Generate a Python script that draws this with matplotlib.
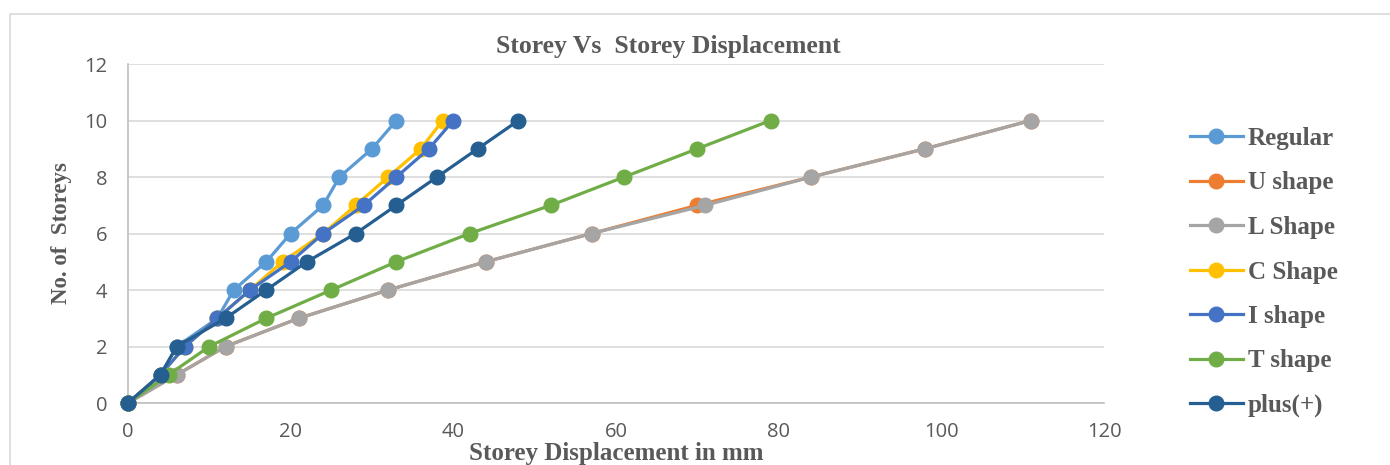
import matplotlib
matplotlib.use("Agg")
import matplotlib.pyplot as plt
from matplotlib.patches import Rectangle

storeys = [0, 1, 2, 3, 4, 5, 6, 7, 8, 9, 10]

regular = [0, 4, 6, 11, 13, 17, 20, 24, 26, 30, 33]
u_shape = [0, 6, 12, 21, 32, 44, 57, 70, 84, 98, 111]
l_shape = [0, 6, 12, 21, 32, 44, 57, 71, 84, 98, 111]
c_shape = [0, 4, 7, 11, 15, 19, 24, 28, 32, 36, 38.7]
i_shape = [0, 4, 7, 11, 15, 20, 24, 29, 33, 37, 40]
t_shape = [0, 5, 10, 17, 25, 33, 42, 52, 61, 70, 79]
plus = [0, 4, 6, 12, 17, 22, 28, 33, 38, 43, 48]

series = [
    ("Regular", regular, "#5B9BD5"),
    ("U shape", u_shape, "#ED7D31"),
    ("L Shape", l_shape, "#A5A5A5"),
    ("C Shape", c_shape, "#FFC000"),
    ("I shape", i_shape, "#4472C4"),
    ("T shape", t_shape, "#70AD47"),
    ("plus(+)", plus, "#255E91"),
]

serif = "Liberation Serif"
tick_font = "Open Sans"

fig = plt.figure(figsize=(13.9, 4.65), dpi=100)
# chart border
fig.patches.append(Rectangle((10 / 1390, -0.1), 1.2, 1 - 14 / 465 + 0.1,
                             transform=fig.transFigure, fill=False,
                             edgecolor="#D9D9D9", linewidth=1.2))

ax = fig.add_axes([128 / 1390, 1 - 403 / 465, (1104 - 128) / 1390, (403 - 64) / 465])

for name, xs, col in series:
    ax.plot(xs, storeys, color=col, linewidth=2.3, marker="o", markersize=10.5,
            label=name, zorder=3, clip_on=False)

ax.set_xlim(0, 120)
ax.set_ylim(0, 12)
ax.set_xticks(range(0, 121, 20))
ax.set_yticks(range(0, 13, 2))
ax.grid(axis="y", color="#D9D9D9", linewidth=1.2)
ax.set_axisbelow(True)
for s in ["top", "right"]:
    ax.spines[s].set_visible(False)
for s in ["left", "bottom"]:
    ax.spines[s].set_color("#BFBFBF")
    ax.spines[s].set_linewidth(1.2)
ax.tick_params(length=0, labelsize=14.5, labelcolor="#595959")
ax.tick_params(axis="y", pad=15)
ax.tick_params(axis="x", pad=14)
for lab in ax.get_xticklabels() + ax.get_yticklabels():
    lab.set_fontfamily(tick_font)

fig.text(668 / 1390, 1 - 46 / 465, "Storey Vs  Storey Displacement", ha="center",
         va="center", fontsize=18.5, fontweight="bold", family=serif, color="#595959")
fig.text(616 / 1390, 1 - 453 / 465, "Storey Displacement in mm", ha="center",
         va="center", fontsize=18, fontweight="bold", family=serif, color="#595959")
fig.text(62 / 1390, 1 - 233 / 465, "No. of  Storeys", ha="center", va="center",
         rotation=90, fontsize=16.5, fontweight="bold", family=serif, color="#595959")

leg = fig.legend(loc="upper left", bbox_to_anchor=(1180 / 1390, 1 - 117 / 465),
                 frameon=False, handlelength=2.1, handletextpad=0.2,
                 labelspacing=0.86, borderaxespad=0,
                 prop={"family": serif, "weight": "bold", "size": 18})
for t in leg.get_texts():
    t.set_color("#595959")

fig.savefig("out.png", dpi=100)
